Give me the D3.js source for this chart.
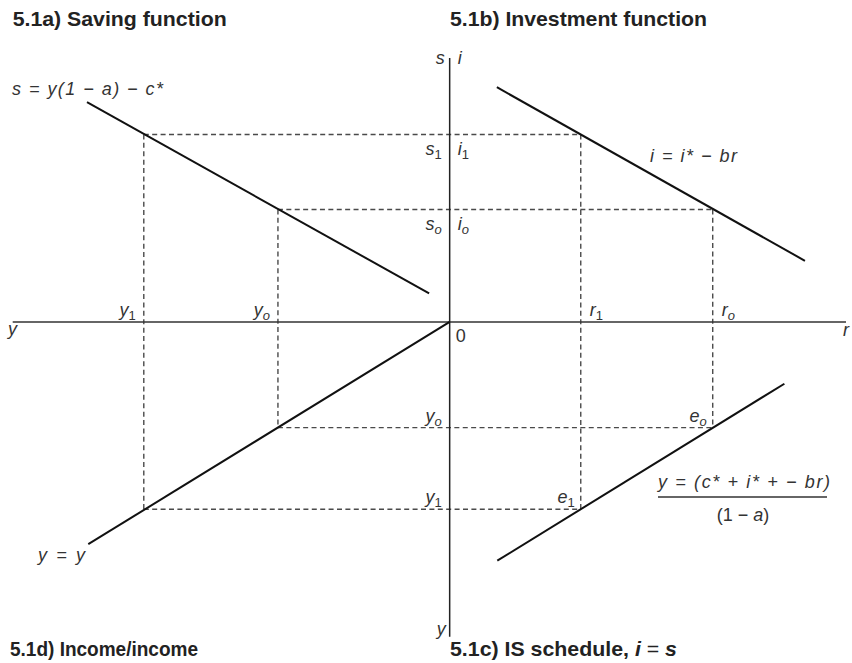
<!DOCTYPE html>
<html>
<head>
<meta charset="utf-8">
<script src="https://cdn.jsdelivr.net/npm/d3@7"></script>
<style>
  body { margin: 0; background: #fff; }
  svg { display: block; font-family: "Liberation Sans", Arial, Helvetica, sans-serif; }
  .lbl { font-size: 18px; fill: #333; }
  .title { font-size: 21px; font-weight: bold; fill: #222; }
</style>
</head>
<body>
<div id="chart"></div>
<script>
/* Four-quadrant IS derivation diagram */

const width = 852, height = 663;

// levels (abstract units, origin at the axes crossing)
const incomeLevels = [-7, -3.93];   // y1, yo on the left horizontal axis
const rateLevels = [3, 6.02];       // r1, ro on the right horizontal axis
const savingLevels = [5, 3];        // s1 = i1, so = io on the upper vertical axis
const outputLevels = [-5, -2.82];   // y1, yo on the lower vertical axis
const levelNames = ["1", "o"];

// function lines (end points)
const savingLine = [[-8.3, 5.86], [-0.47, 0.76]];
const investLine = [[1.08, 6.26], [8.13, 1.63]];
const incomeLine = [[0, 0], [-8.27, -5.93]];
const isLine = [[1.09, -6.37], [7.66, -1.65]];

const xDomain = [-10, 9.07], yDomain = [-8.4, 7.04];

const svg = d3.select("#chart")
  .append("svg")
  .attr("width", width)
  .attr("height", height);

const x = d3.scaleLinear().domain(xDomain).range([12.7, 846]);
const y = d3.scaleLinear().domain([-8.3, 7.04]).range([633, 58]);

const line = d3.line().x(d => x(d[0])).y(d => y(d[1]));

// dashed projection lines
const dashed = [];
incomeLevels.forEach((yl, k) => {
  const s = savingLevels[k], r = rateLevels[k], o = outputLevels[k];
  dashed.push([[yl, s], [r, s]]);
  dashed.push([[yl, s], [yl, o]]);
  dashed.push([[r, s], [r, o]]);
  dashed.push([[yl, o], [r, o]]);
});

svg.append("g")
  .selectAll("path")
  .data(dashed)
  .join("path")
  .attr("d", line)
  .attr("fill", "none")
  .attr("stroke", "#4a4a4a")
  .attr("stroke-width", 1.4)
  .attr("stroke-dasharray", "5,3.4");

// axes
svg.append("path")
  .attr("d", line([[xDomain[0], 0], [xDomain[1], 0]]))
  .attr("stroke", "#333").attr("stroke-width", 1.5);
svg.append("path")
  .attr("d", line([[0, yDomain[1]], [0, yDomain[0]]]))
  .attr("stroke", "#222").attr("stroke-width", 1.5);

// function lines
svg.append("g")
  .selectAll("path")
  .data([savingLine, investLine, incomeLine, isLine])
  .join("path")
  .attr("d", line)
  .attr("fill", "none")
  .attr("stroke", "#111")
  .attr("stroke-width", 2);

// italic label
function lbl(px, py, txt, anchor) {
  return svg.append("text").attr("class", "lbl")
    .attr("x", px).attr("y", py)
    .attr("text-anchor", anchor || "start")
    .style("font-style", "italic")
    .text(txt);
}

// letter with subscript
function subLabel(px, py, main, sub, anchor) {
  const t = lbl(px, py, null, anchor);
  t.append("tspan").text(main);
  t.append("tspan").style("font-size", "13px").attr("dy", 4)
    .style("font-style", sub === "1" ? "normal" : "italic").text(sub);
  return t;
}

const x0 = x(0), y0 = y(0);

// axis end labels
lbl(x0 - 5, 64, "s", "end");
lbl(x0 + 8, 64, "i");
lbl(8, y0 + 13, "y");
lbl(843, y0 + 14, "r");
lbl(x0 - 4, y(yDomain[0]) - 2, "y", "end");
svg.append("text").attr("class", "lbl")
  .attr("x", x0 + 6).attr("y", y0 + 20).text("0");

// level labels
levelNames.forEach((n, k) => {
  subLabel(x0 - 8, y(savingLevels[k]) + 21, "s", n, "end");
  subLabel(x0 + 8, y(savingLevels[k]) + 21, "i", n);
  subLabel(x(incomeLevels[k]) - 8, y0 - 6, "y", n, "end");
  subLabel(x(rateLevels[k]) + 9, y0 - 6, "r", n);
  subLabel(x0 - 8, y(outputLevels[k]) - 6, "y", n, "end");
  subLabel(x(rateLevels[k]) - 6, y(outputLevels[k]) - 6, "e", n, "end");
});

// equation labels
lbl(12, 95, "s = y(1 − a) − c*")
  .attr("textLength", 151).attr("lengthAdjust", "spacing");
lbl(650, 162, "i = i* − br")
  .attr("textLength", 87).attr("lengthAdjust", "spacing");
lbl(38, 561, "y = y")
  .attr("textLength", 47).attr("lengthAdjust", "spacing");

// IS fraction
lbl(658, 488, "y = (c* + i* + − br)")
  .attr("textLength", 172).attr("lengthAdjust", "spacing");
svg.append("line").attr("x1", 658).attr("x2", 827).attr("y1", 497).attr("y2", 497)
  .attr("stroke", "#333").attr("stroke-width", 1.3);
const den = svg.append("text").attr("class", "lbl").attr("x", 743).attr("y", 521)
  .attr("text-anchor", "middle");
den.append("tspan").text("(1 − ");
den.append("tspan").style("font-style", "italic").text("a");
den.append("tspan").text(")");

// panel titles
svg.append("text").attr("class", "title").attr("x", 12.7).attr("y", 26)
  .attr("textLength", 214).attr("lengthAdjust", "spacingAndGlyphs")
  .text("5.1a) Saving function");
svg.append("text").attr("class", "title").attr("x", 450).attr("y", 26)
  .attr("textLength", 257).attr("lengthAdjust", "spacingAndGlyphs")
  .text("5.1b) Investment function");
svg.append("text").attr("class", "title").attr("x", 10).attr("y", 656)
  .attr("textLength", 188).attr("lengthAdjust", "spacingAndGlyphs")
  .text("5.1d) Income/income");
const tc = svg.append("text").attr("class", "title").attr("x", 450).attr("y", 656)
  .attr("textLength", 227).attr("lengthAdjust", "spacingAndGlyphs");
tc.append("tspan").text("5.1c) IS schedule, ");
tc.append("tspan").style("font-style", "italic").text("i");
tc.append("tspan").style("font-weight", "normal").text(" = ");
tc.append("tspan").style("font-style", "italic").text("s");
</script>
</body>
</html>
